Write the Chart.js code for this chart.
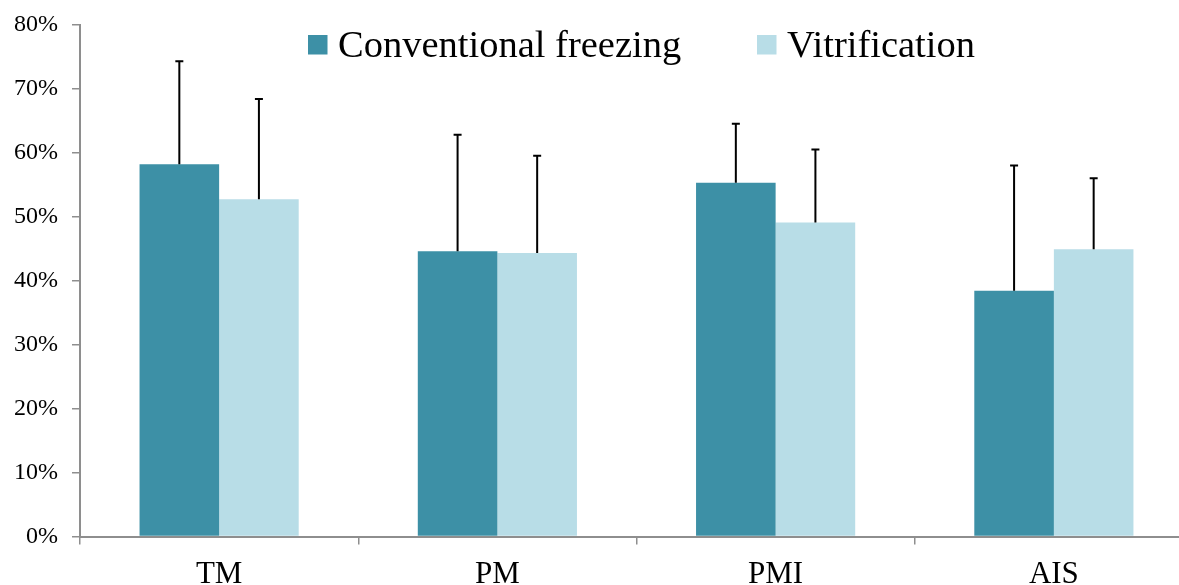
<!DOCTYPE html>
<html>
<head>
<meta charset="utf-8">
<script src="https://cdn.jsdelivr.net/npm/chart.js@4"></script>
<style>
  html, body { margin: 0; padding: 0; background: #fff; overflow: hidden; }
  #wrap { position: relative; width: 1194px; height: 585px; }
</style>
</head>
<body>
<div id="wrap"><canvas id="barChart"></canvas></div>
<script>
// survival rates by group, with upper error bars
const categories = ['TM', 'PM', 'PMI', 'AIS'];
const seriesNames = ['Conventional freezing', 'Vitrification'];
const conventional = [58.2, 44.6, 55.3, 38.4];
const conventionalErr = [16.1, 18.2, 9.2, 19.6];
const vitrification = [52.7, 44.3, 49.1, 44.9];
const vitrificationErr = [15.7, 15.2, 11.4, 11.1];
const yTicks = [0, 10, 20, 30, 40, 50, 60, 70, 80];

const FONT = 'Liberation Serif';
const AXIS_COLOR = '#8e8e8e';
const errors = [conventionalErr, vitrificationErr];

const errorBars = {
  id: 'errorBars',
  afterDatasetsDraw(chart) {
    const c = chart.ctx;
    const y = chart.scales.y;
    c.save();
    c.strokeStyle = '#000';
    c.lineWidth = 2;
    chart.data.datasets.forEach((ds, i) => {
      chart.getDatasetMeta(i).data.forEach((bar, j) => {
        const top = y.getPixelForValue(ds.data[j] + errors[i][j]);
        c.beginPath();
        c.moveTo(bar.x, bar.y);
        c.lineTo(bar.x, top);
        c.moveTo(bar.x - 4, top);
        c.lineTo(bar.x + 4, top);
        c.stroke();
      });
    });
    c.restore();
  },
};

// legend drawn inside the plot, like the original
const legendInside = {
  id: 'legendInside',
  afterDraw(chart) {
    const c = chart.ctx;
    const xs = [308, 757];
    c.save();
    c.font = '38.5px "' + FONT + '"';
    c.textBaseline = 'alphabetic';
    chart.data.datasets.forEach((ds, i) => {
      c.fillStyle = ds.backgroundColor;
      c.fillRect(xs[i], 35, 19.5, 19.5);
      c.fillStyle = '#000';
      c.fillText(ds.label, xs[i] + 30, 56.5);
    });
    c.restore();
  },
};

new Chart(document.getElementById('barChart'), {
  type: 'bar',
  data: {
    labels: categories,
    datasets: [
      {
        label: seriesNames[0],
        data: conventional,
        backgroundColor: '#3d90a6',
        borderWidth: 0,
        barPercentage: 1,
        categoryPercentage: 0.572,
      },
      {
        label: seriesNames[1],
        data: vitrification,
        backgroundColor: '#b8dde7',
        borderWidth: 0,
        barPercentage: 1,
        categoryPercentage: 0.572,
      },
    ],
  },
  options: {
    responsive: true,
    maintainAspectRatio: false,
    animation: false,
    layout: { padding: { top: 24.7, right: 1, left: 0, bottom: 0 } },
    plugins: { legend: { display: false }, tooltip: { enabled: false } },
    scales: {
      x: {
        offset: true,
        grid: { offset: true, drawOnChartArea: false, color: AXIS_COLOR, tickLength: 8, lineWidth: 1.5 },
        border: { color: AXIS_COLOR, width: 2 },
        ticks: { color: '#000', padding: 12, font: { family: FONT, size: 31 } },
        afterFit: s => { s.height = 48.5; s.paddingLeft = 0; s.paddingRight = 0; },
      },
      y: {
        min: 0,
        max: 80,
        afterBuildTicks: s => { s.ticks = yTicks.map(v => ({ value: v })); },
        grid: { drawOnChartArea: false, color: AXIS_COLOR, tickLength: 8, lineWidth: 1.5 },
        border: { color: AXIS_COLOR, width: 2 },
        ticks: { color: '#000', padding: 14, font: { family: FONT, size: 24 }, callback: v => v + '%' },
        afterFit: s => { s.width = 80; s.paddingTop = 0; s.paddingBottom = 0; },
      },
    },
  },
  plugins: [errorBars, legendInside],
});
</script>
</body>
</html>
